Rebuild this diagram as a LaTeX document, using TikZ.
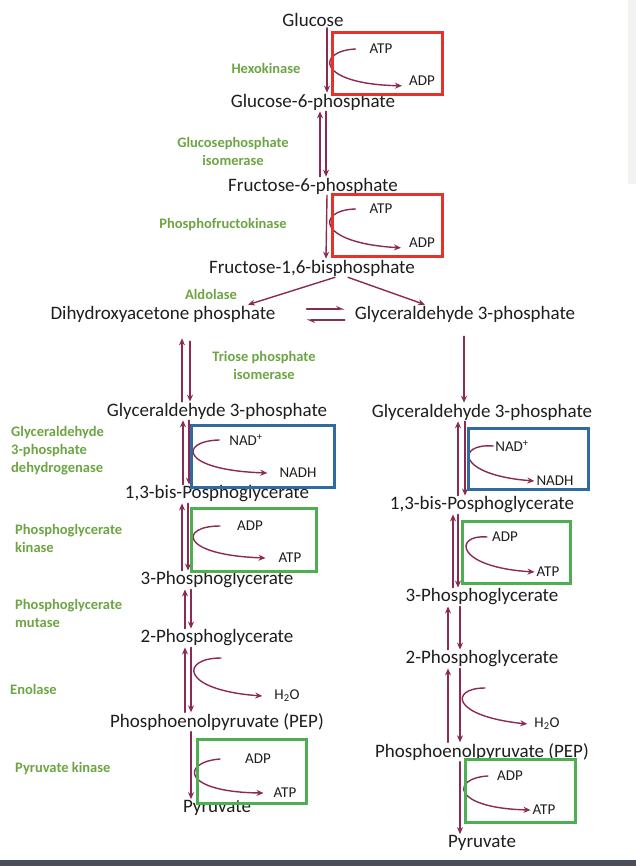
\documentclass[tikz,border=0pt]{standalone}
\usepackage{fontspec}
\setmainfont{Carlito}
\usetikzlibrary{arrows.meta,calc}
\definecolor{glyink}{HTML}{1E1E1E}
\definecolor{glyarrow}{HTML}{8A2A55}
\definecolor{glyenz}{HTML}{6DA544}
\definecolor{glyred}{HTML}{E5322B}
\definecolor{glyblue}{HTML}{2F6AA3}
\definecolor{glygreen}{HTML}{4EAE52}
\definecolor{glyside}{HTML}{F2F2F0}
\definecolor{glybar}{HTML}{4B4E58}

\begin{document}
\begin{tikzpicture}[x=1pt,y=-1pt,line cap=round,line join=round,
  met/.style={inner sep=1pt,font=\fontsize{19}{20}\selectfont,text=glyink},
  enz/.style={inner sep=0pt,align=left,font=\fontsize{14.5}{18}\selectfont\bfseries,text=glyenz},
  cof/.style={inner sep=2pt,font=\fontsize{15}{16}\selectfont,text=glyink},
  rxn/.style={glyarrow,line width=1.4pt,-{Stealth[length=7pt,width=6pt]}},
  eq/.style={glyarrow,line width=1.4pt,-{Stealth[length=7pt,width=6pt,left]}},
  hl/.style={line width=3pt,line join=miter}]
\path[use as bounding box] (0,0) rectangle (636,866);
\fill[white] (0,0) rectangle (636,866);
\fill[glyside] (628,0) rectangle (636,184);
\fill[glybar] (0,860) rectangle (636,866);

% stoffe: gemeinsamer weg und linker zweig
\node[met] (glc) at (313,20) {Glucose};
\node[met] (g6p) at (313,102) {Glucose-6-phosphate};
\node[met] (f6p) at (313,186) {Fructose-6-phosphate};
\node[met] (fbp) at (312,268) {Fructose-1,6-bisphosphate};
\node[met] (dhap) at (163,314) {Dihydroxyacetone phosphate};
\node[met] (ga3p) at (465,314) {Glyceraldehyde 3-phosphate};
\node[met] (g3pL) at (217,411) {Glyceraldehyde 3-phosphate};
\node[met] (bpgL) at (217,494) {1,3-bis-Posphoglycerate};
\node[met] (pg3L) at (217,580) {3-Phosphoglycerate};
\node[met] (pg2L) at (217,638) {2-Phosphoglycerate};
\node[met] (pepL) at (217,722) {Phosphoenolpyruvate (PEP)};
\node[met] (pyrL) at (217,808) {Pyruvate};
% rechter zweig
\node[met] (g3pR) at (482,412) {Glyceraldehyde 3-phosphate};
\node[met] (bpgR) at (482,505) {1,3-bis-Posphoglycerate};
\node[met] (pg3R) at (482,597) {3-Phosphoglycerate};
\node[met] (pg2R) at (482,659) {2-Phosphoglycerate};
\node[met] (pepR) at (482,752) {Phosphoenolpyruvate (PEP)};
\node[met] (pyrR) at (482,843) {Pyruvate};

% enzyme
\node[enz] (hk) at (266,68) {Hexokinase};
\node[enz,align=center] (gpi) at (233,151) {Glucosephosphate\\isomerase};
\node[enz] (pfk) at (223,225) {Phosphofructokinase};
\node[enz] (ald) at (211,294) {Aldolase};
\node[enz,align=center] (tpi) at (264,365) {Triose phosphate\\isomerase};
\node[enz,anchor=west] (gapdh) at (11,451) {Glyceraldehyde\\3-phosphate\\dehydrogenase};
\node[enz,anchor=west] (pgk) at (15,538) {Phosphoglycerate\\kinase};
\node[enz,anchor=west] (pgm) at (15,613) {Phosphoglycerate\\mutase};
\node[enz,anchor=west] (eno) at (10,689) {Enolase};
\node[enz,anchor=west] (pk) at (15,769) {Pyruvate kinase};

% cofaktoren
\node[cof] (atpA) at (381,49) {ATP};
\node[cof] (adpA) at (422,81) {ADP};
\node[cof] (atpB) at (381,209) {ATP};
\node[cof] (adpB) at (422,243) {ADP};
\node[cof] (nadL) at (246,440) {NAD\textsuperscript{+}};
\node[cof] (nadhL) at (298,473) {NADH};
\node[cof] (adpL) at (250,526) {ADP};
\node[cof] (atpL) at (290,558) {ATP};
\node[cof] (h2oL) at (287,696) {H\textsubscript{2}O};
\node[cof] (adpL2) at (258,759) {ADP};
\node[cof] (atpL2) at (285,793) {ATP};
\node[cof] (nadR) at (512,446) {NAD\textsuperscript{+}};
\node[cof] (nadhR) at (555,481) {NADH};
\node[cof] (adpR) at (505,537) {ADP};
\node[cof] (atpR) at (548,572) {ATP};
\node[cof] (h2oR) at (547,724) {H\textsubscript{2}O};
\node[cof] (adpR2) at (510,776) {ADP};
\node[cof] (atpR2) at (544,810) {ATP};
\coordinate (enoL) at (221,658);
\coordinate (enoR) at (485,688);

% hauptpfeile oben
\draw[rxn] ([xshift=14pt]glc.south) -- ([xshift=14pt]g6p.north);
\draw[rxn] ([xshift=7pt]f6p.north) -- ([xshift=7pt]g6p.south);
\draw[rxn] ([xshift=13pt]g6p.south) -- ([xshift=13pt]f6p.north);
\draw[rxn] ([xshift=14pt]f6p.south) -- ([xshift=14pt]fbp.north);
\draw[rxn] ([xshift=23pt]fbp.south) -- ([xshift=85pt]dhap.north);
\draw[rxn] ([xshift=36pt]fbp.south) -- ([xshift=-40pt]ga3p.north);
\draw[eq] ([xshift=30pt,yshift=5pt]dhap.east) -- ([xshift=-9pt,yshift=5pt]ga3p.west);
\draw[eq] ([xshift=-9pt,yshift=-6pt]ga3p.west) -- ([xshift=30pt,yshift=-6pt]dhap.east);
\draw[rxn,shorten >=15pt] ([xshift=-35pt]g3pL.north) -- ([xshift=19pt]dhap.south);
\draw[rxn,shorten <=18pt] ([xshift=27pt]dhap.south) -- ([xshift=-27pt]g3pL.north);
\draw[rxn,shorten <=13pt] ([xshift=-1pt]ga3p.south) -- ([xshift=-18pt]g3pR.north);

% linker zweig
\draw[rxn] ([xshift=-34pt]bpgL.north) -- ([xshift=-34pt]g3pL.south);
\draw[rxn] ([xshift=-28pt]g3pL.south) -- ([xshift=-28pt]bpgL.north);
\draw[rxn] ([xshift=-35pt]pg3L.north) -- ([xshift=-35pt]bpgL.south);
\draw[rxn] ([xshift=-29pt]bpgL.south) -- ([xshift=-29pt]pg3L.north);
\draw[rxn] ([xshift=-32pt]pg2L.north) -- ([xshift=-32pt]pg3L.south);
\draw[rxn] ([xshift=-26pt]pg3L.south) -- ([xshift=-26pt]pg2L.north);
\draw[rxn] ([xshift=-32pt]pepL.north) -- ([xshift=-32pt]pg2L.south);
\draw[rxn] ([xshift=-26pt]pg2L.south) -- ([xshift=-26pt]pepL.north);
\draw[rxn] ([xshift=-26pt]pepL.south) -- ([xshift=-26pt]pyrL.north);

% rechter zweig
\draw[rxn] ([xshift=-24pt]bpgR.north) -- ([xshift=-24pt]g3pR.south);
\draw[rxn] ([xshift=-17pt]g3pR.south) -- ([xshift=-17pt]bpgR.north);
\draw[rxn] ([xshift=-29pt]pg3R.north) -- ([xshift=-29pt]bpgR.south);
\draw[rxn] ([xshift=-24pt]bpgR.south) -- ([xshift=-24pt]pg3R.north);
\draw[rxn] ([xshift=-34pt]pg2R.north) -- ([xshift=-34pt]pg3R.south);
\draw[rxn] ([xshift=-22pt]pg3R.south) -- ([xshift=-22pt]pg2R.north);
\draw[rxn] ([xshift=-34pt]pepR.north) -- ([xshift=-34pt]pg2R.south);
\draw[rxn] ([xshift=-22pt]pg2R.south) -- ([xshift=-22pt]pepR.north);
\draw[rxn] ([xshift=-22pt]pepR.south) -- ([xshift=-22pt]pyrR.north);

% nebenreaktionen
\draw[rxn] ([xshift=-12pt]atpA.west) .. controls (316,51) and (316,84) .. ([xshift=-5pt]adpA.base west);
\draw[rxn] ([xshift=-12pt]atpB.west) .. controls (316,210) and (316,243) .. ([xshift=-6pt]adpB.base west);
\draw[rxn] ([xshift=-8pt]nadL.west) .. controls (179,441) and (179,470) .. ([xshift=-10pt]nadhL.west);
\draw[rxn] ([xshift=-15pt]adpL.west) .. controls (179,526) and (179,555) .. ([xshift=-11pt]atpL.west);
\draw[rxn] (enoL) .. controls (180,658) and (180,690) .. ([xshift=-10pt]h2oL.west);
\draw[rxn] ([xshift=-23pt]adpL2.west) .. controls (181,762) and (181,792) .. ([xshift=-8pt]atpL2.west);
\draw[rxn] (nadR.west) .. controls (456,443) and (456,475) .. (nadhR.west);
\draw[rxn] ([xshift=-3pt]adpR.west) .. controls (454,534) and (454,567) .. (atpR.west);
\draw[rxn] (enoR) .. controls (450,688) and (450,716) .. ([xshift=-5pt]h2oR.west);
\draw[rxn] ([xshift=-7pt]adpR2.west) .. controls (451,778) and (451,808) .. (atpR2.west);

% markierungen
\draw[glyred,hl] (332,33) rectangle (442,95);
\draw[glyred,hl] (332,195) rectangle (442,257);
\draw[glyblue,hl] (191,425) rectangle (334,487);
\draw[glygreen,hl] (191,508) rectangle (316,571);
\draw[glygreen,hl] (197,739) rectangle (306,803);
\draw[glyblue,hl] (468,428) rectangle (588,489);
\draw[glygreen,hl] (462,521) rectangle (570,583);
\draw[glygreen,hl] (465,759) rectangle (575,822);
\end{tikzpicture}
\end{document}
